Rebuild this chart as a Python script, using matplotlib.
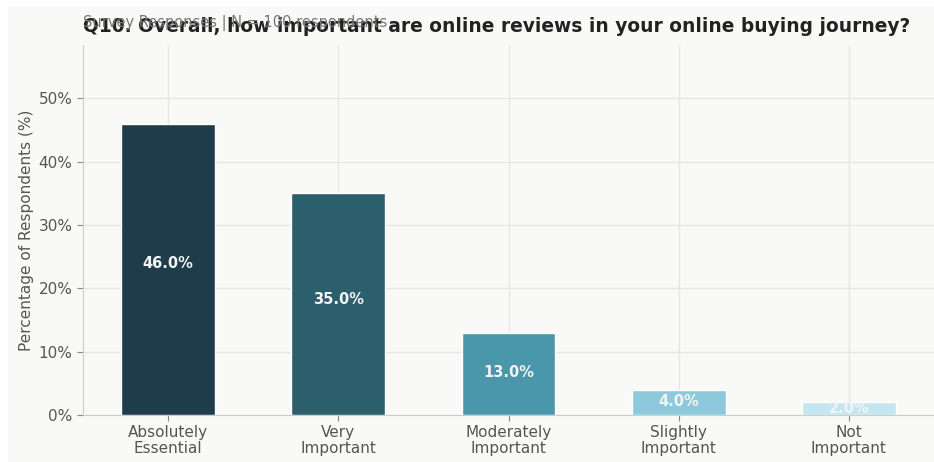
import matplotlib.pyplot as plt
from matplotlib.patches import Rectangle
from matplotlib.ticker import FuncFormatter

categories = ["Absolutely\nEssential", "Very\nImportant", "Moderately\nImportant",
              "Slightly\nImportant", "Not\nImportant"]
percentages = [46.0, 35.0, 13.0, 4.0, 2.0]
bar_colors = ["#1f3c4a", "#2c5f6c", "#4a97ac", "#8ccadb", "#c4e6f0"]

title = "Q10. Overall, how important are online reviews in your online buying journey?"
subtitle = "Survey Responses | N = 100 respondents"

W, H = 934, 462
fig = plt.figure(figsize=(W / 100, H / 100), dpi=100, facecolor="white")
# light panel behind the chart
fig.patches.append(Rectangle((8 / W, 0), 1 - 8 / W, 1 - 7 / H, transform=fig.transFigure,
                             facecolor="#f9f9f8", edgecolor="none", zorder=-10))

ax = fig.add_axes([83 / W, 47 / H, 1 - 83 / W, (415 - 45) / H])
ax.set_facecolor("#f9f9f8")

x = range(len(categories))
bars = ax.bar(x, percentages, width=0.55, color=bar_colors, edgecolor="white",
              linewidth=1, zorder=3)

for b, v in zip(bars, percentages):
    ax.text(b.get_x() + b.get_width() / 2, v * 0.52, f"{v:.1f}%", ha="center", va="center",
            color="#f4f4f4", fontsize=10.5, fontweight="bold", zorder=4)

ax.set_xlim(-0.5, 4.5)
ax.set_ylim(0, max(percentages) * 1.27)
ax.set_xticks(list(x))
ax.set_xticklabels(categories, fontsize=11, color="#555555", linespacing=1.05)
ax.set_yticks([0, 10, 20, 30, 40, 50])
ax.yaxis.set_major_formatter(FuncFormatter(lambda v, p: f"{v:.0f}%"))
ax.tick_params(axis="y", labelsize=11, labelcolor="#555555", color="#888888", length=4)
ax.tick_params(axis="x", color="#888888", length=4)
ax.set_ylabel("Percentage of Respondents (%)", fontsize=11, color="#555555", labelpad=3)

ax.grid(True, color="#e6e6e6", linewidth=1, zorder=0)
ax.set_axisbelow(True)
for side in ["top", "right"]:
    ax.spines[side].set_visible(False)
for side in ["left", "bottom"]:
    ax.spines[side].set_color("#cccccc")

fig.text(497 / W, 1 - 26 / H, title, ha="center", va="center", fontsize=13.4,
         fontweight="bold", color="#222222")
fig.text(83 / W, 1 - 23 / H, subtitle, ha="left", va="center", fontsize=10.5,
         color="#777777")

fig.savefig("out.png", dpi=100, facecolor="white")
